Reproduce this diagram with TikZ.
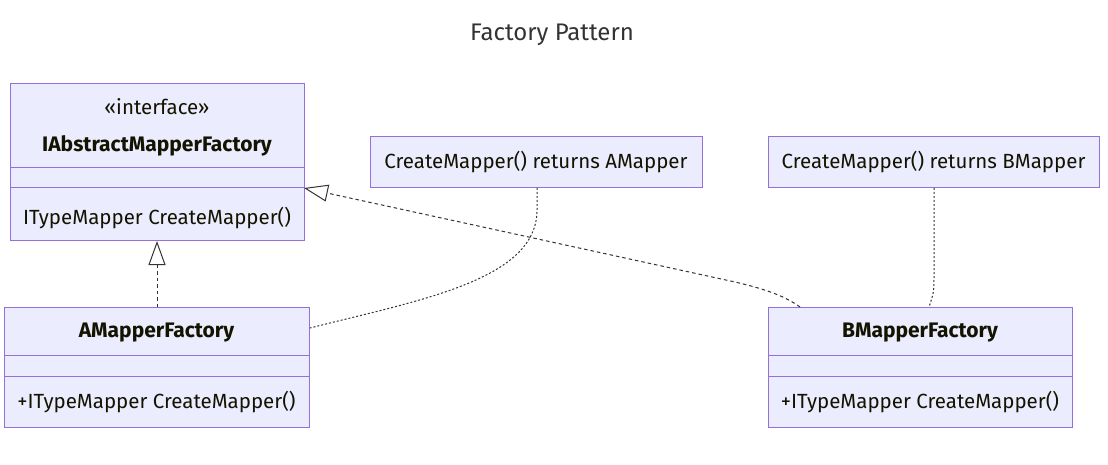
\documentclass[tikz,border=0pt]{standalone}
\usepackage{fontspec}
\setmainfont{Fira Sans}
\usetikzlibrary{arrows.meta,calc}
\definecolor{boxfill}{HTML}{ECECFF}
\definecolor{boxline}{HTML}{9370DB}
\definecolor{ink}{HTML}{131300}
\definecolor{edge}{HTML}{333333}
\tikzset{
  umlbox/.style={draw=boxline, fill=boxfill, line width=1pt, anchor=north west, inner sep=0pt},
  divider/.style={draw=boxline, line width=1pt},
  lbl/.style={text=ink, inner sep=0pt, font=\fontsize{20.5}{24}\selectfont},
  blbl/.style={lbl, font=\fontsize{21}{24}\selectfont\bfseries},
  realize/.style={draw=edge, line width=1pt, dash pattern=on 3.5pt off 3pt,
     -{Triangle[open, length=24pt, width=17pt, line width=1pt, fill=white]}},
  noteline/.style={draw=edge, line width=1pt, dash pattern=on 2pt off 2pt},
}
\begin{document}
\begin{tikzpicture}[x=1pt,y=-1pt]
\useasboundingbox (0,0) rectangle (1108,465);

\node[text=edge, inner sep=0pt, font=\fontsize{24}{28}\selectfont] (title) at (552,35) {Factory Pattern};

% Interface box
\node[umlbox, minimum width=294pt, minimum height=157pt] (I) at (10,83) {};
\draw[divider] (10,168) coordinate (Id1) -- (304,168);
\draw[divider] (10,188) coordinate (Id2) -- (304,188) coordinate (Iarr);
\node[lbl] (Ist) at (157,107) {«interface»};
\node[blbl] (Iname) at (157,145.5) {IAbstractMapperFactory};
\node[lbl] (Im) at (157,218) {ITypeMapper CreateMapper()};

% A box
\node[umlbox, minimum width=305pt, minimum height=120pt] (A) at (4,307) {};
\draw[divider] (4,355) -- (309,355);
\draw[divider] (4,376) -- (309,376);
\node[blbl] (Aname) at (156.5,332.5) {AMapperFactory};
\node[lbl] (Am) at (156.5,402) {+ITypeMapper CreateMapper()};

% B box
\node[umlbox, minimum width=304pt, minimum height=120pt] (B) at (768,307) {};
\draw[divider] (768,355) -- (1072,355);
\draw[divider] (768,376) -- (1072,376);
\node[blbl] (Bname) at (920,332.5) {BMapperFactory};
\node[lbl] (Bm) at (920,402) {+ITypeMapper CreateMapper()};

% Notes
\node[umlbox, minimum width=332pt, minimum height=51pt] (NA) at (370,136) {};
\node[lbl] (NAt) at (536,162) {CreateMapper() returns AMapper};
\node[umlbox, minimum width=331pt, minimum height=51pt] (NB) at (768,136) {};
\node[lbl] (NBt) at (933.5,162) {CreateMapper() returns BMapper};

% Connectors
\draw[realize] (A.north) -- (A.north |- I.south);
\coordinate (Bstart) at ($(B.north west)+(32,0)$);
\draw[realize] (Bstart) .. controls (785,296) and (765,289) .. (735,282) -- (Iarr);
\coordinate (NAb) at ($(NA.south west)+(167,0)$);
\coordinate (Ae) at ($(A.north east)+(0,21)$);
\draw[noteline] (NAb) -- ++(0,22) .. controls (537,280) and (420,300) .. (Ae);
\coordinate (NBb) at ($(NB.south west)+(166,0)$);
\coordinate (Bt) at ($(B.north west)+(161,0)$);
\draw[noteline] (NBb) -- ++(0,85) .. controls (934,292) .. (Bt);
\end{tikzpicture}
\end{document}
